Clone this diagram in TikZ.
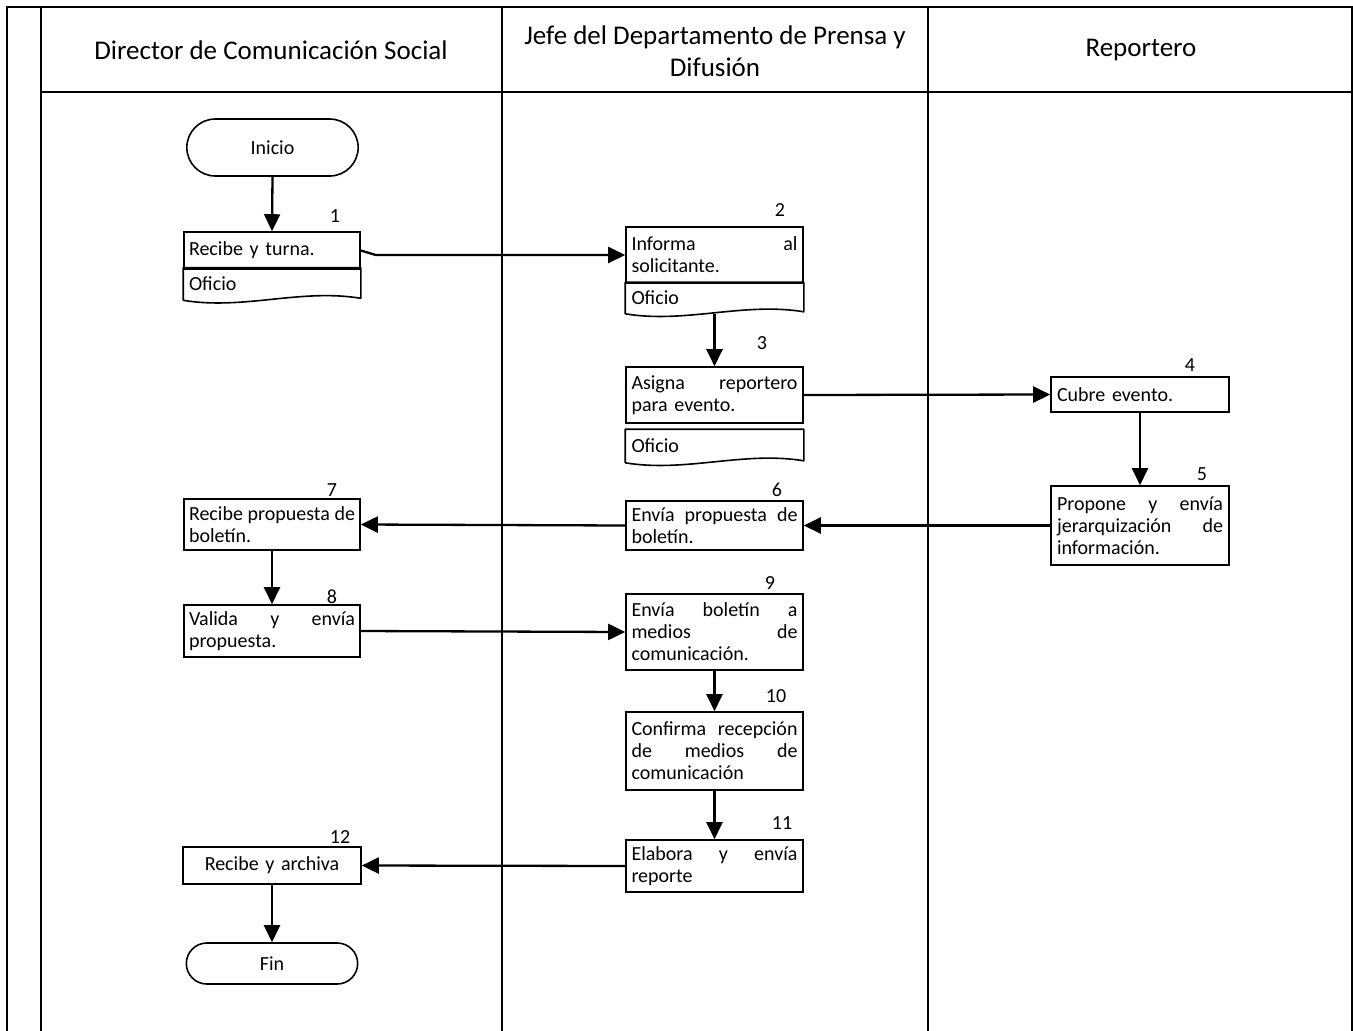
\documentclass[tikz,border=0pt]{standalone}
\usepackage{fontspec}
\setmainfont{Carlito}
\usetikzlibrary{arrows.meta,shapes.misc}

\newcommand{\boxfont}{\fontsize{20}{22}\selectfont}
\newcommand{\headfont}{\fontsize{27}{32}\selectfont}
% a justified line that fills the whole text width of a box
\newcommand{\jl}[1]{\leavevmode\hbox to 166pt{#1}}

\tikzset{
  frame/.style={line width=2.4pt, line cap=rect},
  procbox/.style={draw, line width=1.6pt, rectangle, inner xsep=5pt, inner ysep=2pt,
    text width=166pt, align=left, font=\boxfont},
  docbox/.style={procbox, draw=none},
  docline/.style={line width=1.6pt, line join=round},
  term/.style={draw, line width=1.6pt, rounded rectangle, minimum width=178pt, font=\boxfont},
  num/.style={inner sep=0pt, font=\boxfont},
  head/.style={inner sep=0pt, align=center, font=\headfont},
  arr/.style={line width=2.3pt, -{Triangle[length=17pt,width=16pt]}},
}

\begin{document}
\begin{tikzpicture}[x=1pt, y=-1pt]
\useasboundingbox (0,0) rectangle (1353,1031);

% swimlane frame
\draw[frame] (7,7) -- (1352,7);
\draw[frame] (41,92) -- (1352,92);
\foreach \xx in {7,41,502,928,1352} \draw[frame] (\xx,7) -- (\xx,1031);

% lane headers
\node[head] (h1) at (271,50) {Director de Comunicación Social};
\node[head] (h2) at (715,51) {Jefe del Departamento de Prensa y\\Difusión};
\node[head] (h3) at (1141,50) {Reportero};

% terminators
\node[term, minimum height=57pt] (ini) at (272.5,147.5) {Inicio};
\node[term, minimum height=41pt] (fin) at (272,963.5) {Fin};

% process steps
\node[procbox, minimum width=176pt, minimum height=37pt] (b1) at (272,250.5) {Recibe y turna.};
\node[docbox, minimum width=176pt, minimum height=31pt] (d1) at (272,284) {Oficio};
\node[procbox, minimum width=177pt, minimum height=56pt] (b2) at (714.5,255) {\jl{Informa\hfill al}\\solicitante.};
\node[docbox, minimum width=177pt, minimum height=30pt] (d2) at (714.5,298) {Oficio};
\node[procbox, minimum width=177pt, minimum height=56pt] (b3) at (714.5,395) {\jl{Asigna\hfill reportero}\\para evento.};
\node[docbox, minimum width=177pt, minimum height=32pt] (d3) at (714.5,446) {Oficio};
\node[procbox, minimum width=178pt, minimum height=35pt] (b4) at (1140,394.5) {Cubre evento.};
\node[procbox, minimum width=178pt, minimum height=79pt] (b5) at (1140,525.5) {\jl{Propone\hfill y\hfill envía}\\\jl{jerarquización\hfill de}\\información.};
\node[procbox, minimum width=177pt, minimum height=49pt] (b6) at (714.5,525.5) {\jl{Envía\hfill propuesta\hfill de}\\boletín.};
\node[procbox, minimum width=176pt, minimum height=51pt] (b7) at (272,524.5) {\jl{Recibe\hfill propuesta\hfill de}\\boletín.};
\node[procbox, minimum width=176pt, minimum height=52pt] (b8) at (272,631) {\jl{Valida\hfill y\hfill envía}\\propuesta.};
\node[procbox, minimum width=177pt, minimum height=76pt] (b9) at (714.5,632) {\jl{Envía\hfill boletín\hfill a}\\\jl{medios\hfill de}\\comunicación.};
\node[procbox, minimum width=177pt, minimum height=78pt] (b10) at (714.5,751) {\jl{Confirma\hfill recepción}\\\jl{de\hfill medios\hfill de}\\comunicación};
\node[procbox, minimum width=177pt, minimum height=52pt] (b11) at (714.5,866) {\jl{Elabora\hfill y\hfill envía}\\reporte};
\node[procbox, minimum width=178pt, minimum height=37pt, align=center] (b12) at (272,865.5) {Recibe y archiva};

% document outlines with wavy bottom edge
\foreach \d in {d1,d2,d3}
  \draw[docline] (\d.south west) -- (\d.north west) -- (\d.north east) -- ([yshift=2pt]\d.south east)
    .. controls ([xshift=-60pt,yshift=12pt]\d.south east) and ([xshift=60pt,yshift=-10pt]\d.south west) .. (\d.south west) -- cycle;

% step numbers
\node[num] (n1) at (335,216) {1};
\node[num] (n2) at (780,210) {2};
\node[num] (n3) at (762,343) {3};
\node[num] (n4) at (1190,365) {4};
\node[num] (n5) at (1202,474) {5};
\node[num] (n6) at (777,490) {6};
\node[num] (n7) at (332,490) {7};
\node[num] (n8) at (332,597) {8};
\node[num] (n9) at (770,583) {9};
\node[num] (n10) at (776,696) {10};
\node[num] (n11) at (782,823) {11};
\node[num] (n12) at (340,837) {12};

% flow
\coordinate (k1) at ([xshift=15pt]b1.east);
\draw[arr] (ini.south) -- (b1.north);
\draw[arr] (b1.east) -- (k1 |- b2.west) -- (b2.west);
\draw[arr] (d2.south) -- (b3.north);
\draw[arr] (b3.east) -- (b4.west);
\draw[arr] (b4.south) -- (b5.north);
\draw[arr] (b5.west) -- (b6.east);
\draw[arr] (b6.west) -- (b7.east);
\draw[arr] (b7.south) -- (b8.north);
\draw[arr] (b8.east) -- (b9.west);
\draw[arr] (b9.south) -- (b10.north);
\draw[arr] (b10.south) -- (b11.north);
\draw[arr] (b11.west) -- (b12.east);
\draw[arr] (b12.south) -- (fin.north);
\end{tikzpicture}
\end{document}
